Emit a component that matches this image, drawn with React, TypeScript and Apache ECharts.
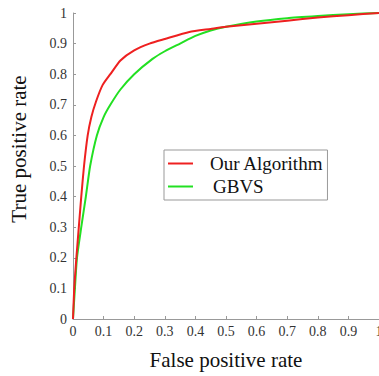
import React, { useEffect, useRef } from "react";
import * as echarts from "echarts";

const fprOurs = [0, 0.004, 0.011, 0.019, 0.027, 0.036, 0.048, 0.06, 0.075, 0.097, 0.122, 0.155, 0.2, 0.25, 0.3, 0.38, 0.45, 0.5, 0.6, 0.7, 0.8, 0.9, 1];
const tprOurs = [0, 0.1, 0.2, 0.3, 0.4, 0.5, 0.6, 0.66, 0.71, 0.765, 0.8, 0.845, 0.878, 0.9, 0.915, 0.938, 0.948, 0.955, 0.965, 0.975, 0.985, 0.993, 1];

const fprGbvs = [0, 0.005, 0.013, 0.027, 0.042, 0.056, 0.078, 0.1, 0.122, 0.155, 0.2, 0.26, 0.3, 0.35, 0.4, 0.45, 0.5, 0.6, 0.7, 0.8, 0.9, 1];
const tprGbvs = [0, 0.08, 0.2, 0.3, 0.4, 0.5, 0.6, 0.66, 0.7, 0.75, 0.8, 0.85, 0.875, 0.9, 0.925, 0.943, 0.955, 0.972, 0.983, 0.99, 0.996, 1];

const seriesNames = ["Our Algorithm", "GBVS"];
const seriesColors = ["#ee2020", "#22e022"];

export default function App() {
  const ref = useRef<HTMLDivElement>(null);
  useEffect(() => {
    if (!ref.current) return;
    const chart = echarts.init(ref.current, null, { renderer: "svg" });
    const serif = "'Liberation Serif', 'Times New Roman', serif";
    chart.setOption({
      animation: false,
      backgroundColor: "#fff",
      grid: { left: 73, top: 13, right: 0, bottom: 57, containLabel: false, outerBoundsMode: "none" },
      xAxis: {
        type: "value",
        min: 0,
        max: 1,
        interval: 0.1,
        name: "False positive rate",
        nameLocation: "middle",
        nameGap: 30,
        nameTextStyle: { fontFamily: serif, fontSize: 21, color: "#111" },
        axisLine: { show: true, lineStyle: { color: "#999", width: 1 } },
        axisTick: { show: true, inside: true, length: 3, lineStyle: { color: "#999" } },
        axisLabel: { fontFamily: serif, fontSize: 14, color: "#333", margin: 5 },
        splitLine: { show: false },
      },
      yAxis: {
        type: "value",
        min: 0,
        max: 1,
        interval: 0.1,
        name: "True positive rate",
        nameLocation: "middle",
        nameGap: 44,
        nameRotate: 90,
        nameTextStyle: { fontFamily: serif, fontSize: 21, color: "#111", padding: [0, 0, 0, 34] },
        axisLine: { show: true, lineStyle: { color: "#999", width: 1 } },
        axisTick: { show: true, inside: true, length: 3, lineStyle: { color: "#999" } },
        axisLabel: { fontFamily: serif, fontSize: 14, color: "#333", margin: 6 },
        splitLine: { show: false },
      },
      legend: {
        orient: "vertical",
        left: 164,
        top: 150,
        padding: [4, 4, 4, 4],
        itemGap: 4,
        itemWidth: 25,
        itemHeight: 2,
        icon: "rect",
        borderColor: "#999",
        borderWidth: 1,
        backgroundColor: "#fff",
        textStyle: { fontFamily: serif, fontSize: 19, color: "#111", padding: [0, 0, 0, 12] },
        data: [
          { name: seriesNames[0] },
          { name: seriesNames[1], textStyle: { padding: [0, 0, 0, 15] } },
        ],
      },
      series: [
        {
          name: seriesNames[0],
          type: "line",
          data: fprOurs.map((x, i) => [x, tprOurs[i]]),
          showSymbol: false,
          smooth: 0.2,
          lineStyle: { color: seriesColors[0], width: 2 },
          itemStyle: { color: seriesColors[0] },
          z: 3,
        },
        {
          name: seriesNames[1],
          type: "line",
          data: fprGbvs.map((x, i) => [x, tprGbvs[i]]),
          showSymbol: false,
          smooth: 0.2,
          lineStyle: { color: seriesColors[1], width: 2 },
          itemStyle: { color: seriesColors[1] },
          z: 2,
        },
      ],
    });
    return () => chart.dispose();
  }, []);
  return (
    <div
      ref={ref}
      style={{ position: "fixed", left: 0, top: 0, width: 379, height: 376 }}
    />
  );
}
